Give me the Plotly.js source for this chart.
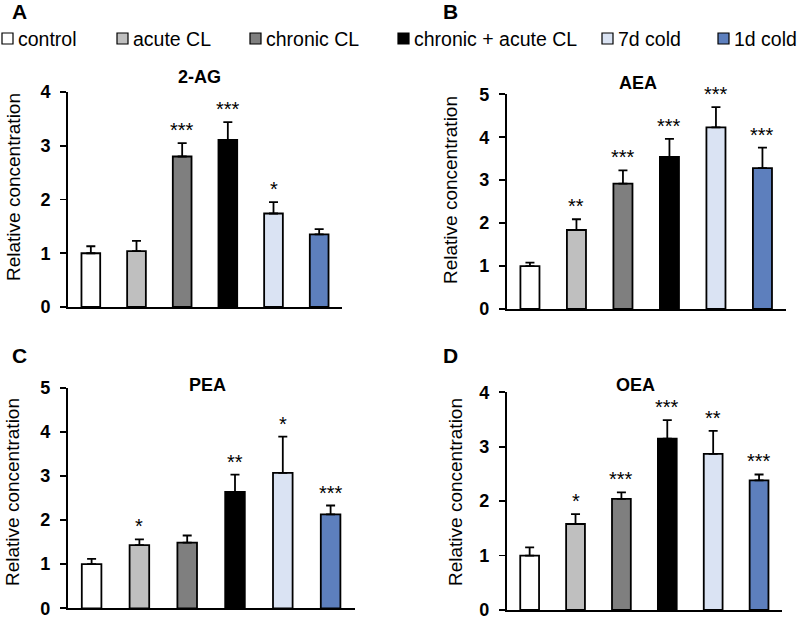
<!DOCTYPE html>
<html>
<head>
<meta charset="utf-8">
<script src="https://cdn.plot.ly/plotly-3.0.1.min.js"></script>
<style>
  html, body { margin: 0; padding: 0; background: #fff; }
  #chart { width: 798px; height: 619px; }
</style>
</head>
<body>
<div id="chart"></div>
<script>
// groups shown in every panel
const groups = ['control', 'acute CL', 'chronic CL', 'chronic + acute CL', '7d cold', '1d cold'];
const groupColors = ['#ffffff', '#bfbfbf', '#7f7f7f', '#000000', '#dae3f3', '#5d7fbd'];

// panel A: 2-AG
const ag2Mean = [1.00, 1.04, 2.80, 3.11, 1.74, 1.35];
const ag2Err  = [0.13, 0.19, 0.25, 0.33, 0.21, 0.10];
const ag2Sig  = ['', '', '***', '***', '*', ''];

// panel B: AEA
const aeaMean = [1.00, 1.84, 2.92, 3.54, 4.23, 3.28];
const aeaErr  = [0.08, 0.25, 0.31, 0.42, 0.47, 0.48];
const aeaSig  = ['', '**', '***', '***', '***', '***'];

// panel C: PEA
const peaMean = [1.00, 1.43, 1.49, 2.64, 3.07, 2.13];
const peaErr  = [0.12, 0.13, 0.16, 0.39, 0.82, 0.20];
const peaSig  = ['', '*', '', '**', '*', '***'];

// panel D: OEA
const oeaMean = [1.00, 1.58, 2.04, 3.15, 2.87, 2.38];
const oeaErr  = [0.15, 0.18, 0.12, 0.34, 0.42, 0.11];
const oeaSig  = ['', '*', '***', '***', '**', '***'];

const W = 798, H = 619;
const FONT = 'Liberation Sans, Arial, sans-serif';
const px = v => v / W;           // pixel x -> paper
const py = v => 1 - v / H;       // pixel y (from top) -> paper

// layout of each panel, in pixels of the reference
const panels = [
  { key: '',  mean: ag2Mean, err: ag2Err, sig: ag2Sig, name: '2-AG', letter: 'A', ymax: 4,
    x: [68, 342],    y: [307, 92],    title: [199, 77],  letterPos: [19, 12],   ylab: [14, 187] },
  { key: '2', mean: aeaMean, err: aeaErr, sig: aeaSig, name: 'AEA',  letter: 'B', ymax: 5,
    x: [506.7, 785.7], y: [309, 94.3], title: [638, 83],  letterPos: [450, 12],  ylab: [451, 190] },
  { key: '3', mean: peaMean, err: peaErr, sig: peaSig, name: 'PEA',  letter: 'C', ymax: 5,
    x: [67.7, 354.5], y: [608.3, 387.7], title: [207, 385], letterPos: [19, 355], ylab: [12, 492] },
  { key: '4', mean: oeaMean, err: oeaErr, sig: oeaSig, name: 'OEA',  letter: 'D', ymax: 4,
    x: [506.7, 782],  y: [610, 392.3], title: [635, 385], letterPos: [450, 355], ylab: [455, 492] }
];

const traces = [];
const annotations = [];
const shapes = [];
const layout = {
  width: W,
  height: H,
  autosize: false,
  margin: { l: 0, r: 0, t: 0, b: 0 },
  paper_bgcolor: '#fff',
  plot_bgcolor: 'rgba(0,0,0,0)',
  showlegend: false,
  bargap: 0.59,
  font: { family: FONT, color: '#000' }
};

panels.forEach(p => {
  const xa = 'x' + p.key, ya = 'y' + p.key;
  traces.push({
    type: 'bar',
    x: groups,
    y: p.mean,
    xaxis: xa,
    yaxis: ya,
    marker: { color: groupColors, line: { color: '#000', width: 1.8 } },
    error_y: {
      type: 'data', symmetric: false,
      array: p.err, arrayminus: p.err.map(() => 0),
      color: '#000', thickness: 1.8, width: 4.5
    },
    hoverinfo: 'skip',
    cliponaxis: false
  });

  layout['xaxis' + p.key] = {
    domain: [px(p.x[0]), px(p.x[1])],
    anchor: ya,
    type: 'category',
    range: [-0.5, 5.5],
    showline: true, linecolor: '#000', linewidth: 1.8,
    showticklabels: false, ticks: '', showgrid: false, zeroline: false,
    fixedrange: true
  };
  layout['yaxis' + p.key] = {
    domain: [py(p.y[0]), py(p.y[1])],
    anchor: xa,
    range: [0, p.ymax],
    dtick: 1,
    showline: true, linecolor: '#000', linewidth: 1.8,
    ticks: 'outside', ticklen: 6, tickwidth: 1.8, tickcolor: '#000',
    ticklabelstandoff: 6,
    ticklabeloverflow: 'allow',
    tickfont: { family: FONT, size: 18, weight: 'bold', color: '#000' },
    showgrid: false, zeroline: false, fixedrange: true
  };

  // chart title
  annotations.push({
    xref: 'paper', yref: 'paper', x: px(p.title[0]), y: py(p.title[1]),
    xanchor: 'center', yanchor: 'middle', showarrow: false,
    text: p.name, font: { family: FONT, size: 18, weight: 'bold' }
  });
  // panel letter
  annotations.push({
    xref: 'paper', yref: 'paper', x: px(p.letterPos[0]), y: py(p.letterPos[1]),
    xanchor: 'center', yanchor: 'middle', showarrow: false,
    text: p.letter, font: { family: FONT, size: 21, weight: 'bold' }
  });
  // y axis title
  annotations.push({
    xref: 'paper', yref: 'paper', x: px(p.ylab[0]), y: py(p.ylab[1]),
    xanchor: 'center', yanchor: 'middle', showarrow: false, textangle: -90,
    text: 'Relative concentration', font: { family: FONT, size: 19 }
  });
  // significance stars
  p.sig.forEach((s, i) => {
    if (!s) return;
    annotations.push({
      xref: xa, yref: ya, x: groups[i], y: p.mean[i] + p.err[i],
      xanchor: 'center', yanchor: 'bottom', showarrow: false, yshift: 0,
      text: s, font: { family: FONT, size: 20 }
    });
  });
});

// legend across the top, built from the group list
const legendLeft = [2, 117, 250, 398, 602, 718];
groups.forEach((g, i) => {
  const x0 = legendLeft[i];
  shapes.push({
    type: 'rect', xref: 'paper', yref: 'paper',
    x0: px(x0), x1: px(x0 + 11), y0: py(44), y1: py(33),
    fillcolor: groupColors[i], line: { color: '#000', width: 1.2 }
  });
  annotations.push({
    xref: 'paper', yref: 'paper', x: px(x0 + 14), y: py(38.5),
    xanchor: 'left', yanchor: 'middle', showarrow: false,
    text: g, font: { family: FONT, size: 19.5 }
  });
});

layout.annotations = annotations;
layout.shapes = shapes;

Plotly.newPlot('chart', traces, layout, { staticPlot: true, displayModeBar: false });
</script>
</body>
</html>
